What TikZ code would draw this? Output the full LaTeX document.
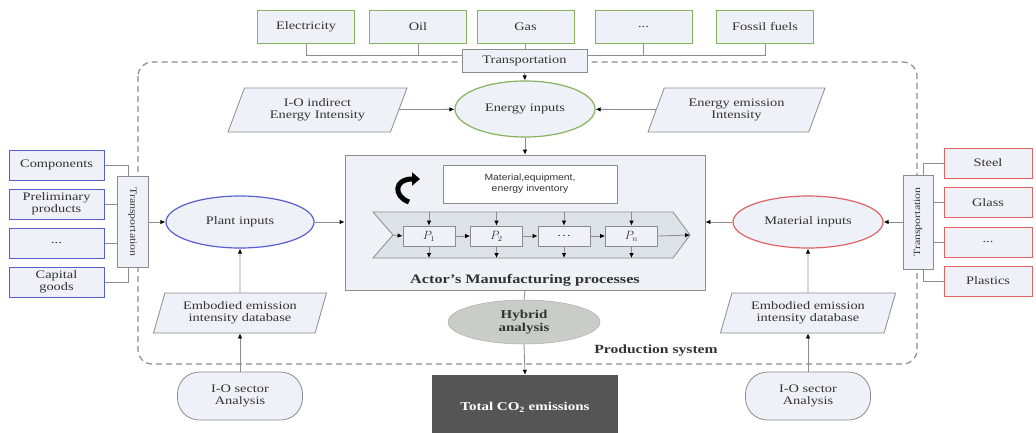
\documentclass[tikz,border=0pt]{standalone}
\usepackage{graphicx}
\usepackage{fontspec}
\setmainfont{Liberation Serif}[FakeStretch=1.25]
\newfontfamily\sansf{Liberation Sans}[FakeStretch=1.15]
\usetikzlibrary{shapes.geometric,arrows.meta,calc}
\definecolor{bfill}{HTML}{EEF2F8}
\definecolor{cfill}{HTML}{EEF1F5}
\definecolor{chev}{HTML}{DDE1E8}
\definecolor{gline}{HTML}{86B25E}
\definecolor{bline}{HTML}{5A5FD0}
\definecolor{rline}{HTML}{E06464}
\definecolor{lgray}{HTML}{8C8C8C}
\definecolor{txt}{HTML}{333333}
\definecolor{hybfill}{HTML}{C9CCC9}
\definecolor{totfill}{HTML}{555555}
\begin{document}
\begin{tikzpicture}[x=1pt,y=-1pt,
  font=\fontsize{11.5}{12}\selectfont, text=txt,
  box/.style={draw, fill=bfill, line width=1pt, minimum width=97pt, minimum height=33pt, inner sep=1pt, align=center},
  sbox/.style={box, minimum width=95pt, minimum height=30pt},
  tbox/.style={draw=lgray, fill=bfill, line width=0.8pt, inner sep=1pt, align=center},
  ell/.style={ellipse, draw, fill=bfill, line width=1.2pt, inner sep=0pt, align=center},
  para/.style={trapezium, trapezium left angle=60, trapezium right angle=120, trapezium stretches body=true, draw=lgray, fill=bfill, line width=0.8pt, inner sep=1pt, align=center},
  stad/.style={rectangle, rounded corners=22pt, draw=lgray, fill=bfill, line width=0.8pt, minimum width=125pt, minimum height=48pt, align=center},
  conn/.style={draw=lgray, line width=0.8pt},
  arr/.style={conn, -{Latex[length=5pt,width=4.5pt,black]}},
  pbox/.style={draw=lgray, fill=bfill, line width=0.8pt, minimum width=52pt, minimum height=20pt, inner sep=0pt},
  frame/.style={draw=lgray, line width=1.2pt, dash pattern=on 6pt off 4pt, rounded corners=14pt}
]
\useasboundingbox (0,0) rectangle (1036,432);
\fill[white] (0,0) rectangle (1036,432);

% production system frame
\draw[frame] (138,62) rectangle (917,364);
\node[font=\fontsize{12.5}{13}\selectfont\bfseries] (prod) at (656,351) {Production system};

% central manufacturing box
\node[draw=lgray, fill=cfill, line width=0.8pt, minimum width=360pt, minimum height=135pt] (actor) at (525,222.5) {};
\draw[draw=lgray, fill=chev, line width=0.8pt] (373,212) -- (673,212) -- (690,235) -- (673,258) -- (373,258) -- (393,235) -- cycle;
\coordinate (notch) at (393,235);
\coordinate (tip) at (690,235);
\node[pbox] (p1) at (429,236) {$P_1$};
\node[pbox] (p2) at (496.5,236) {$P_2$};
\node[pbox] (p3) at (564,236) {\dots};
\node[pbox] (pn) at (631.5,236) {$P_n$};
\draw[arr] (notch) -- (p1.west);
\draw[arr] (p1.east) -- (p2.west);
\draw[arr] (p2.east) -- (p3.west);
\draw[arr] (p3.east) -- (pn.west);
\draw[arr] (pn.east) -- (tip);
\foreach \p in {p1,p2,p3,pn}{
  \draw[arr] (\p.north |- 0,212) -- (\p.north);
  \draw[arr] (\p.south) -- (\p.south |- 0,258);
}
\node[draw=lgray, fill=white, line width=0.8pt, minimum width=174pt, minimum height=38pt, align=center, font=\sansf\fontsize{9}{11}\selectfont] (inv) at (530,184) {Material,equipment,\\energy inventory};
\coordinate (ca) at (409,202);
\coordinate (cb) at (420,179);
\draw[line width=5pt, black, -{Triangle[length=8pt,width=13pt]}] (ca) .. controls (393,196) and (394,179) .. (cb);
\node[font=\fontsize{13}{14}\selectfont\bfseries] (actlbl) at (525,280) {Actor’s Manufacturing processes};

% energy inputs
\node[ell, draw=gline, minimum width=140pt, minimum height=56pt] (energy) at (525,109) {Energy inputs};
\node[para, minimum width=179pt, minimum height=44pt, trapezium left angle=56, trapezium right angle=124] (ioind) at (317.5,110) {I-O indirect\\Energy Intensity};
\node[para, minimum width=177pt, minimum height=44pt, trapezium left angle=56, trapezium right angle=124] (emis) at (736.5,110) {Energy emission\\Intensity};
\draw[arr] (ioind) -- (energy);
\draw[arr] (emis) -- (energy);
\draw[arr] (energy.south) -- (actor.north);

% top energy sources
\node[box, draw=gline] (elec) at (306,26.5) {Electricity};
\node[box, draw=gline] (oil) at (418,26.5) {Oil};
\node[box, draw=gline] (gas) at (525.5,26.5) {Gas};
\node[box, draw=gline] (edots) at (643.5,26.5) {...};
\node[box, draw=gline] (fossil) at (765,26.5) {Fossil fuels};
\draw[conn] (elec.south) -- (elec.south |- 0,55) -- (fossil.south |- 0,55) -- (fossil.south);
\draw[conn] (oil.south) -- (oil.south |- 0,55);
\draw[conn] (edots.south) -- (edots.south |- 0,55);
\draw[conn] (gas.south) -- (gas.south |- 0,55);
\node[tbox, minimum width=125pt, minimum height=23pt] (ttop) at (524.5,60.5) {Transportation};
\draw[arr] (ttop.south) -- (energy.north);

% plant inputs (left)
\node[ell, draw=bline, minimum width=148pt, minimum height=52pt] (plant) at (240,222) {Plant inputs};
\node[sbox, draw=bline] (comp) at (56.5,165) {Components};
\node[sbox, draw=bline] (prel) at (56.5,204) {Preliminary\\products};
\node[sbox, draw=bline] (ldots) at (56.5,243) {...};
\node[sbox, draw=bline] (capg) at (56.5,282) {Capital\\goods};
\coordinate (tlx) at (128,0);
\node[tbox, minimum width=31pt, minimum height=91pt] (tl) at (132.5,222) {\rotatebox{-90}{\fontsize{9.5}{10}\selectfont Transportation}};
\draw[conn] (comp.east) -| (tlx |- tl.north);
\draw[conn] (capg.east) -| (tlx |- tl.south);
\draw[conn] (prel.east) -- (prel.east -| tl.west);
\draw[conn] (ldots.east) -- (ldots.east -| tl.west);
\draw[arr] (tl) -- (plant);
\draw[arr] (plant.east) -- (actor.west |- plant.east);

% material inputs (right)
\node[ell, draw=rline, minimum width=150pt, minimum height=52pt] (mat) at (808,222) {Material inputs};
\node[sbox, draw=rline, minimum width=88pt] (steel) at (988,163) {Steel};
\node[sbox, draw=rline, minimum width=88pt] (glass) at (988,202.5) {Glass};
\node[sbox, draw=rline, minimum width=88pt] (rdots) at (988,242) {...};
\node[sbox, draw=rline, minimum width=88pt] (plast) at (988,281) {Plastics};
\coordinate (trx) at (923,0);
\node[tbox, minimum width=30pt, minimum height=94pt] (tr) at (918,222) {\rotatebox{90}{\fontsize{9.5}{10}\selectfont Transportation}};
\draw[conn] (steel.west) -| (trx |- tr.north);
\draw[conn] (plast.west) -| (trx |- tr.south);
\draw[conn] (glass.west) -- (glass.west -| tr.east);
\draw[conn] (rdots.west) -- (rdots.west -| tr.east);
\draw[arr] (tr) -- (mat);
\draw[arr] (mat.west) -- (actor.east |- mat.west);

% embodied databases and I-O sector analysis
\node[para, minimum width=173pt, minimum height=40pt, trapezium left angle=65, trapezium right angle=115] (embL) at (240,313) {Embodied emission\\intensity database};
\node[para, minimum width=175pt, minimum height=40pt, trapezium left angle=65, trapezium right angle=115] (embR) at (808,313) {Embodied emission\\intensity database};
\node[stad] (ioL) at (240,396) {I-O sector\\Analysis};
\node[stad] (ioR) at (808,396) {I-O sector\\Analysis};
\draw[arr] (embL) -- (plant);
\draw[arr] (ioL) -- (embL);
\draw[arr] (embR) -- (mat);
\draw[arr] (ioR) -- (embR);

% hybrid analysis and total
\node[ellipse, fill=hybfill, draw=hybfill!85!black, line width=0.5pt, minimum width=152pt, minimum height=44pt, inner sep=0pt, align=center, font=\fontsize{12}{13}\selectfont\bfseries] (hyb) at (524,322) {Hybrid\\analysis};
\node[rectangle, fill=totfill, minimum width=186pt, minimum height=64pt, text=white, font=\fontsize{12}{13}\selectfont\bfseries] (total) at (525,407) {Total CO\textsubscript{2} emissions};
\draw[conn] (actor.south) -- (hyb.north);
\draw[arr] (hyb.south) -- (total.north);
\end{tikzpicture}
\end{document}
